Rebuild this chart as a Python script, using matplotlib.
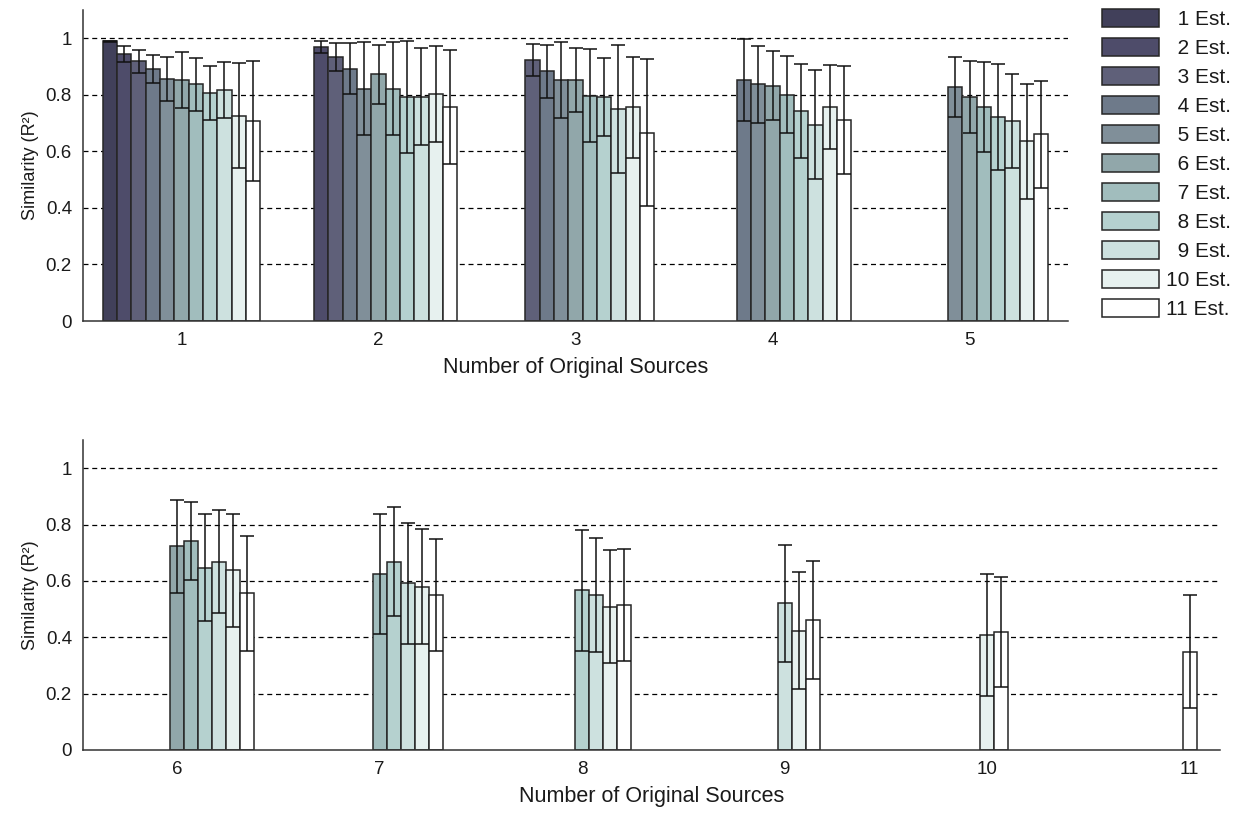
import matplotlib
matplotlib.use("Agg")
import matplotlib.pyplot as plt
import numpy as np

plt.rcParams['font.family'] = ['Liberation Sans', 'DejaVu Sans']

# Mean similarity (R^2) per number of estimated sources, one list per number
# of original sources. List for k sources starts at "k Est."
r2_src1 = [0.989, 0.943, 0.918, 0.892, 0.856, 0.852, 0.837, 0.807, 0.816, 0.726, 0.707]
r2_src2 = [0.969, 0.934, 0.893, 0.822, 0.873, 0.822, 0.793, 0.793, 0.804, 0.757]
r2_src3 = [0.923, 0.883, 0.852, 0.852, 0.797, 0.793, 0.750, 0.756, 0.665]
r2_src4 = [0.853, 0.837, 0.832, 0.801, 0.742, 0.695, 0.756, 0.711]
r2_src5 = [0.827, 0.792, 0.756, 0.721, 0.708, 0.635, 0.661]
r2_src6 = [0.723, 0.742, 0.647, 0.668, 0.637, 0.556]
r2_src7 = [0.625, 0.668, 0.591, 0.580, 0.551]
r2_src8 = [0.566, 0.551, 0.509, 0.515]
r2_src9 = [0.520, 0.424, 0.460]
r2_src10 = [0.408, 0.420]
r2_src11 = [0.349]

# standard deviations (error bars)
sd_src1 = [0.003, 0.028, 0.040, 0.050, 0.079, 0.099, 0.093, 0.096, 0.099, 0.186, 0.212]
sd_src2 = [0.020, 0.051, 0.091, 0.164, 0.104, 0.164, 0.199, 0.171, 0.170, 0.202]
sd_src3 = [0.055, 0.093, 0.134, 0.113, 0.164, 0.138, 0.227, 0.179, 0.260]
sd_src4 = [0.146, 0.137, 0.122, 0.137, 0.166, 0.194, 0.149, 0.190]
sd_src5 = [0.106, 0.127, 0.159, 0.187, 0.166, 0.202, 0.189]
sd_src6 = [0.165, 0.139, 0.190, 0.183, 0.202, 0.203]
sd_src7 = [0.213, 0.193, 0.214, 0.204, 0.198]
sd_src8 = [0.215, 0.202, 0.200, 0.199]
sd_src9 = [0.207, 0.207, 0.209]
sd_src10 = [0.218, 0.195]
sd_src11 = [0.200]

top_sources = [1, 2, 3, 4, 5]
bottom_sources = [6, 7, 8, 9, 10, 11]
est_labels = ['\u2007%d Est.' % n if n < 10 else '%d Est.' % n for n in range(1, 12)]

means = [r2_src1, r2_src2, r2_src3, r2_src4, r2_src5, r2_src6,
         r2_src7, r2_src8, r2_src9, r2_src10, r2_src11]
sds = [sd_src1, sd_src2, sd_src3, sd_src4, sd_src5, sd_src6,
       sd_src7, sd_src8, sd_src9, sd_src10, sd_src11]

colors = ['#41405a', '#4e4c6a', '#5f6079', '#6e7a8a', '#808f99', '#91a7aa',
          '#a1bdbd', '#b5d1cf', '#cde1df', '#e7f1ef', '#ffffff']
edge = '#262626'
txt = '#1a1a1a'

fig = plt.figure(figsize=(12.41, 8.14), dpi=100)
ax_top = fig.add_axes([83 / 1241, 1 - 321 / 814, 985 / 1241, 311 / 814])
ax_bot = fig.add_axes([83 / 1241, 1 - 750 / 814, 1137 / 1241, 310 / 814])


def draw_groups(ax, sources, width, centered):
    handles = []
    for k in sources:
        m = means[k - 1]
        s = sds[k - 1]
        for i, (val, err) in enumerate(zip(m, s)):
            est = k + i
            if centered:
                x = k - 0.4 + (est - 0.5) * width
            else:
                x = k + (est - k) * width
            b = ax.bar(x, val, width=width, color=colors[est - 1], edgecolor=edge,
                       linewidth=1.1, zorder=2, label=est_labels[est - 1])
            ax.errorbar(x, val, yerr=err, fmt='none', ecolor='#111111',
                        elinewidth=1.1, capsize=5, capthick=1.1, zorder=3)
            handles.append((est, b))
    return handles


def style_axis(ax, xlim, ticks):
    ax.set_xlim(*xlim)
    ax.set_ylim(0, 1.1)
    ax.set_xticks(ticks)
    ax.set_xticklabels([str(t) for t in ticks])
    ax.set_yticks([0, 0.2, 0.4, 0.6, 0.8, 1.0])
    ax.set_yticklabels(['0', '0.2', '0.4', '0.6', '0.8', '1'])
    for y in [0.2, 0.4, 0.6, 0.8, 1.0]:
        ax.axhline(y, color='black', linestyle=(0, (4, 3)), linewidth=0.9, zorder=1)
    ax.spines['top'].set_visible(False)
    ax.spines['right'].set_visible(False)
    ax.spines['left'].set_color('#333333')
    ax.spines['bottom'].set_color('#333333')
    ax.spines['left'].set_linewidth(1.1)
    ax.spines['bottom'].set_linewidth(1.1)
    ax.tick_params(axis='both', length=0, labelsize=13.5, colors=txt)
    ax.tick_params(axis='y', pad=8)
    ax.tick_params(axis='x', pad=8)
    ax.set_xlabel('Number of Original Sources', fontsize=15.5, color=txt, labelpad=6)
    ax.set_ylabel('Similarity (R²)', fontsize=13, color=txt, labelpad=5)


handles = draw_groups(ax_top, top_sources, 0.8 / 11, True)
draw_groups(ax_bot, bottom_sources, 0.069, False)
style_axis(ax_top, (0.5, 5.5), top_sources)
style_axis(ax_bot, (5.535, 11.15), bottom_sources)

# legend: one entry per number of estimated sources
first = {}
for est, b in handles:
    first.setdefault(est, b)
leg_handles = [first[e] for e in range(1, 12)]
fig.legend(leg_handles, est_labels, loc='upper left',
           bbox_to_anchor=(1102 / 1241, 1 - 9 / 814), frameon=False,
           borderpad=0, borderaxespad=0, handlelength=2.75, handleheight=0.97,
           labelspacing=0.42, handletextpad=0.3, fontsize=15, labelcolor=txt)

fig.savefig('out.png', dpi=100)
